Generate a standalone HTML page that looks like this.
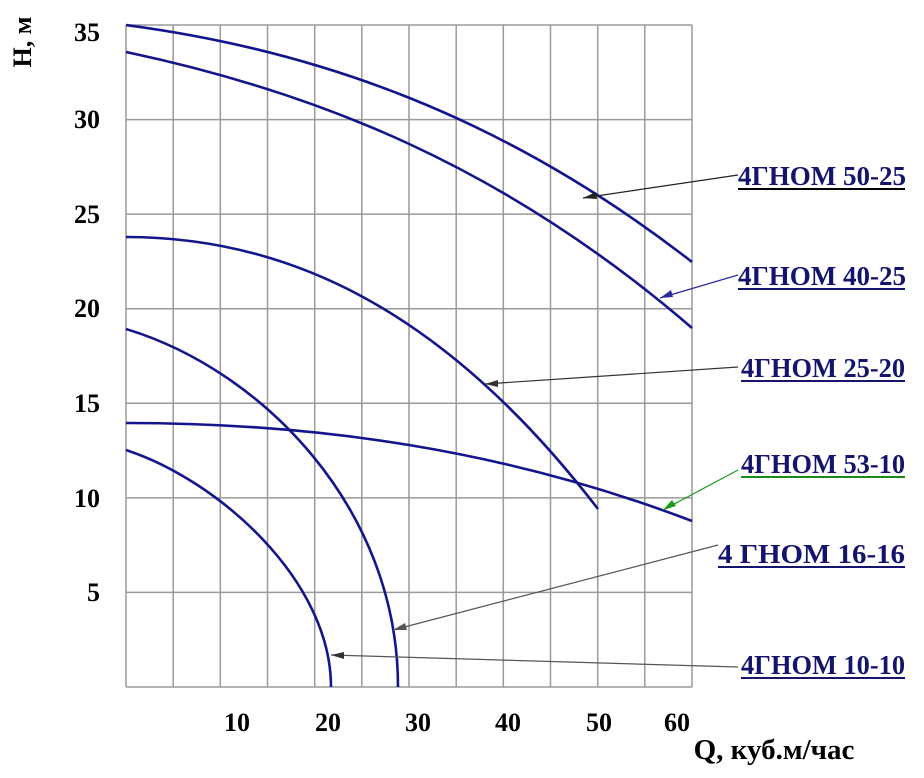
<!DOCTYPE html>
<html><head><meta charset="utf-8"><style>
html,body{margin:0;padding:0;background:#fff}
svg{display:block}
.t{font-family:"Liberation Serif","DejaVu Serif",serif;font-weight:bold}
</style></head><body>
<svg width="924" height="778" viewBox="0 0 924 778" xmlns="http://www.w3.org/2000/svg">
<g stroke="#9a9a9a" stroke-width="1.5" fill="none">
<line x1="126" y1="25" x2="692" y2="25"/>
<line x1="126" y1="119.6" x2="692" y2="119.6"/>
<line x1="126" y1="214.1" x2="692" y2="214.1"/>
<line x1="126" y1="308.7" x2="692" y2="308.7"/>
<line x1="126" y1="403.3" x2="692" y2="403.3"/>
<line x1="126" y1="497.9" x2="692" y2="497.9"/>
<line x1="126" y1="592.4" x2="692" y2="592.4"/>
<line x1="126" y1="687" x2="692" y2="687"/>
<line x1="126" y1="25" x2="126" y2="687"/>
<line x1="173.2" y1="25" x2="173.2" y2="687"/>
<line x1="220.3" y1="25" x2="220.3" y2="687"/>
<line x1="267.5" y1="25" x2="267.5" y2="687"/>
<line x1="314.7" y1="25" x2="314.7" y2="687"/>
<line x1="361.8" y1="25" x2="361.8" y2="687"/>
<line x1="409" y1="25" x2="409" y2="687"/>
<line x1="456.2" y1="25" x2="456.2" y2="687"/>
<line x1="503.3" y1="25" x2="503.3" y2="687"/>
<line x1="550.5" y1="25" x2="550.5" y2="687"/>
<line x1="597.7" y1="25" x2="597.7" y2="687"/>
<line x1="644.8" y1="25" x2="644.8" y2="687"/>
<line x1="692" y1="25" x2="692" y2="687"/>
</g>
<g stroke="#14148c" stroke-width="2.6" fill="none">
<path d="M126 25 C315 50 503 115 692 262"/>
<path d="M126 52 C315 92 503 165 692 328"/>
<path d="M126 237 C283 237 441 305 598 509"/>
<path d="M126 423 C315 423 503 449 692 521"/>
<path d="M126 329 C262 370 398 508 398 687"/>
<path d="M126 450 C218 480 331 580 331 687"/>
</g>
<g stroke-width="1.2" fill="none">
<line x1="738" y1="175" x2="583" y2="198" stroke="#222"/>
<line x1="738" y1="275" x2="660" y2="298" stroke="#2a2a9a"/>
<line x1="738" y1="367" x2="485" y2="384" stroke="#333"/>
<line x1="738" y1="470" x2="663" y2="510" stroke="#1a9a1a"/>
<line x1="718" y1="545" x2="393" y2="630" stroke="#555"/>
<line x1="738" y1="667" x2="331" y2="655" stroke="#555"/>
</g>
<g>
<polygon points="583,198 596,192 597,199" fill="#222"/>
<polygon points="660,298 671,290 673,297" fill="#2a2a9a"/>
<polygon points="485,384 498,380 498,387" fill="#333"/>
<polygon points="663,510 672,500 676,506" fill="#1a9a1a"/>
<polygon points="393,630 405,623 407,630" fill="#555"/>
<polygon points="331,655 344,652 344,659" fill="#333"/>
</g>
<g class="t" fill="#000" font-size="26" text-anchor="end">
<text x="100" y="41">35</text>
<text x="100" y="128">30</text>
<text x="100" y="223">25</text>
<text x="100" y="317">20</text>
<text x="100" y="412">15</text>
<text x="100" y="507">10</text>
<text x="100" y="601">5</text>
</g>
<g class="t" fill="#000" font-size="26" text-anchor="middle">
<text x="237" y="731">10</text>
<text x="328" y="731">20</text>
<text x="418" y="731">30</text>
<text x="508" y="731">40</text>
<text x="599" y="731">50</text>
<text x="677" y="731">60</text>
</g>
<text class="t" x="774" y="759" font-size="29" text-anchor="middle" fill="#000">Q, куб.м/час</text>
<text class="t" transform="translate(31,42) rotate(-90)" font-size="26" text-anchor="middle" fill="#000">H, м</text>
<g class="t" fill="#14146e" font-size="27" textLength="168">
<text x="738" y="185" textLength="168" lengthAdjust="spacingAndGlyphs">4ГНОМ 50-25</text>
<text x="738" y="285" textLength="168" lengthAdjust="spacingAndGlyphs">4ГНОМ 40-25</text>
<text x="741" y="377" textLength="164" lengthAdjust="spacingAndGlyphs">4ГНОМ 25-20</text>
<text x="741" y="473" textLength="164" lengthAdjust="spacingAndGlyphs">4ГНОМ 53-10</text>
<text x="718" y="563" textLength="187" lengthAdjust="spacingAndGlyphs">4 ГНОМ 16-16</text>
<text x="741" y="674" textLength="164" lengthAdjust="spacingAndGlyphs">4ГНОМ 10-10</text>
</g>
<g stroke-width="2">
<line x1="738" y1="189" x2="905" y2="189" stroke="#000"/>
<line x1="738" y1="289" x2="905" y2="289" stroke="#14146e"/>
<line x1="741" y1="381" x2="905" y2="381" stroke="#14146e"/>
<line x1="741" y1="477" x2="905" y2="477" stroke="#1a8a1a"/>
<line x1="718" y1="567" x2="905" y2="567" stroke="#14146e"/>
<line x1="741" y1="678" x2="905" y2="678" stroke="#14146e"/>
</g>
</svg>
</body></html>
